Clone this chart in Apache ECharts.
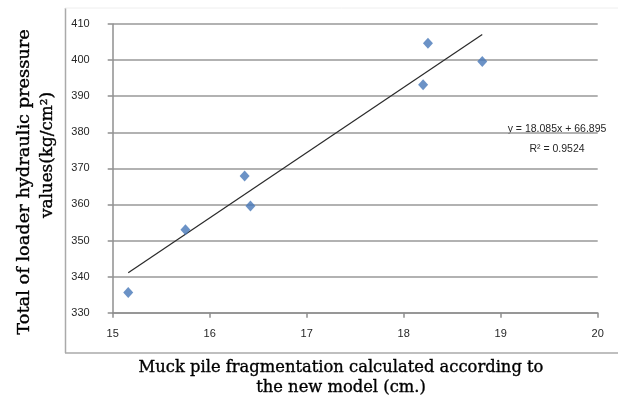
<!DOCTYPE html>
<html>
<head>
<meta charset="utf-8">
<script src="https://cdn.jsdelivr.net/npm/echarts@6/dist/echarts.min.js"></script>
<style>html,body{margin:0;padding:0;background:#fff;}#c{width:618px;height:412px;}</style>
</head>
<body>
<div id="c"></div>
<script>
// Data
const fragmentation = [15.16, 15.75, 16.36, 16.42, 18.20, 18.25, 18.81];
const pressure = [335.6, 353.0, 367.9, 359.6, 393.2, 404.7, 399.6];
const trendSlope = 18.085;
const trendIntercept = 66.895;
const rSquared = 0.9524;
const xTicks = [15, 16, 17, 18, 19, 20];
const yTicks = [330, 340, 350, 360, 370, 380, 390, 400, 410];
const xTitleLines = ['Muck pile fragmentation calculated according to', 'the new model (cm.)'];
const yTitleLines = ['Total of loader hydraulic pressure', 'values(kg/cm\u00B2)'];

const points = fragmentation.map((x, i) => [x, pressure[i]]);
const xMinData = Math.min(...fragmentation);
const xMaxData = Math.max(...fragmentation);
const trend = [xMinData, xMaxData].map(x => [x, trendSlope * x + trendIntercept]);

const chart = echarts.init(document.getElementById('c'));
const sans = '"Liberation Sans", Arial, sans-serif';
const tickFont = {fontFamily: sans, fontSize: 11, color: '#262626'};
const serif = 'DejaVu Serif, serif';
const titleStyle = {fill: '#000', stroke: '#000', lineWidth: 0.35, font: '16px ' + serif, textAlign: 'center', textVerticalAlign: 'middle'};

chart.setOption({
  animation: false,
  backgroundColor: '#fff',
  grid: {left: 112.7, right: 20.3, top: 24, bottom: 99.3, containLabel: false},
  xAxis: {
    type: 'value', min: xTicks[0], max: xTicks[xTicks.length - 1], interval: 1,
    axisLine: {show: true, lineStyle: {color: '#8f8f8f', width: 1.5}},
    axisTick: {show: true, length: 5, lineStyle: {color: '#8f8f8f', width: 1.5}},
    axisLabel: Object.assign({margin: 16}, tickFont),
    splitLine: {show: false}
  },
  yAxis: {
    type: 'value', min: yTicks[0], max: yTicks[yTicks.length - 1], interval: 10,
    axisLine: {show: true, lineStyle: {color: '#8f8f8f', width: 1.5}},
    axisTick: {show: true, length: 5, lineStyle: {color: '#8f8f8f', width: 1.5}},
    axisLabel: Object.assign({margin: 23}, tickFont),
    splitLine: {show: true, lineStyle: {color: '#999999', width: 1.5}}
  },
  series: [
    {
      type: 'line', data: trend, showSymbol: false, symbol: 'none',
      lineStyle: {color: '#2a2a2a', width: 1.2}, z: 2, silent: true
    },
    {
      type: 'scatter', data: points, symbol: 'diamond', symbolSize: [10, 11],
      itemStyle: {color: '#4677b8'}, z: 3
    }
  ],
  graphic: [
    {type: 'line', shape: {x1: 65.5, y1: 8, x2: 65.5, y2: 353}, style: {stroke: '#aaaaaa', lineWidth: 1.5}, silent: true},
    {type: 'line', shape: {x1: 65, y1: 353, x2: 618, y2: 353}, style: {stroke: '#aaaaaa', lineWidth: 1.5}, silent: true},
    {type: 'line', shape: {x1: 65, y1: 8, x2: 618, y2: 8}, style: {stroke: '#eeeeee', lineWidth: 1}, silent: true},
    {type: 'text', x: 557, y: 129, style: {text: 'y = ' + trendSlope + 'x + ' + trendIntercept, fill: '#262626', font: '10.5px ' + sans, textAlign: 'center', textVerticalAlign: 'middle'}},
    {type: 'text', x: 557, y: 149, style: {text: 'R\u00B2 = ' + rSquared, fill: '#262626', font: '10.5px ' + sans, textAlign: 'center', textVerticalAlign: 'middle'}},
    {type: 'text', x: 341, y: 368, scaleX: 1.02, style: Object.assign({text: xTitleLines[0]}, titleStyle)},
    {type: 'text', x: 341, y: 388, scaleX: 1.02, style: Object.assign({text: xTitleLines[1]}, titleStyle)},
    {type: 'text', x: 25, y: 182, rotation: Math.PI / 2, scaleX: 1.11, style: Object.assign({text: yTitleLines[0]}, titleStyle)},
    {type: 'text', x: 48, y: 155, rotation: Math.PI / 2, scaleX: 1.05, style: Object.assign({text: yTitleLines[1]}, titleStyle)}
  ]
});
</script>
</body>
</html>
